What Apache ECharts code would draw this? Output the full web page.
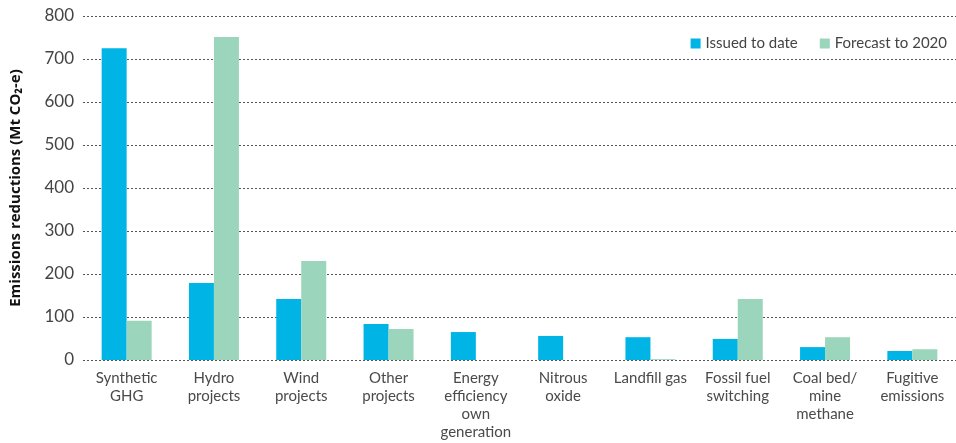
<!DOCTYPE html>
<html><head><meta charset="utf-8">
<script src="https://cdn.jsdelivr.net/npm/echarts@6/dist/echarts.min.js"></script>
<style>html,body{margin:0;padding:0;background:#fff}#c{width:956px;height:443px}</style>
</head><body><div id="c"></div>
<script>
const categories = ["Synthetic\nGHG","Hydro\nprojects","Wind\nprojects","Other\nprojects","Energy\nefficiency\nown\ngeneration","Nitrous\noxide","Landfill gas","Fossil fuel\nswitching","Coal bed/\nmine\nmethane","Fugitive\nemissions"];
const issuedToDate = [725, 179, 142, 84, 65, 56, 53, 49, 30, 21];
const forecastTo2020 = [91, 751, 230, 72, 0, 0, 2, 142, 53, 25];
const yTicks = [0, 100, 200, 300, 400, 500, 600, 700, 800];

const chart = echarts.init(document.getElementById('c'));
const font = 'Lato, "Open Sans", sans-serif';
chart.setOption({
  animation: false,
  textStyle: {fontFamily: font},
  legend: {
    top: 31, right: 4, itemWidth: 10, itemHeight: 10, itemGap: 22,
    icon: 'rect',
    textStyle: {fontSize: 15, color: '#444', fontFamily: font},
    data: ['Issued to date', 'Forecast to 2020']
  },
  grid: {left: 75, right: -2, top: 16, bottom: 83, containLabel: false},
  xAxis: {
    type: 'category', data: categories,
    axisLine: {show: false}, axisTick: {show: false},
    axisLabel: {fontSize: 15, color: '#4a4a4a', lineHeight: 18, margin: 9, interval: 0, fontFamily: font}
  },
  yAxis: {
    type: 'value', min: yTicks[0], max: yTicks[yTicks.length-1], interval: 100,
    name: 'Emissions reductions (Mt CO\u2082-e)', nameLocation: 'middle', nameGap: 60,
    nameTextStyle: {fontSize: 15, fontWeight: 'bold', color: '#111', fontFamily: '"Open Sans", sans-serif'},
    axisLine: {show: false}, axisTick: {show: false},
    axisLabel: {fontSize: 17, color: '#444', margin: 9, fontFamily: font},
    splitLine: {lineStyle: {type: [2, 2], color: '#555', width: 1}}
  },
  series: [
    {name: 'Issued to date', type: 'bar', data: issuedToDate, barWidth: 25, barGap: '0%',
     itemStyle: {color: '#00b5e6'}},
    {name: 'Forecast to 2020', type: 'bar', data: forecastTo2020, barWidth: 25,
     itemStyle: {color: '#9bd5bc'}}
  ]
});
</script></body></html>
